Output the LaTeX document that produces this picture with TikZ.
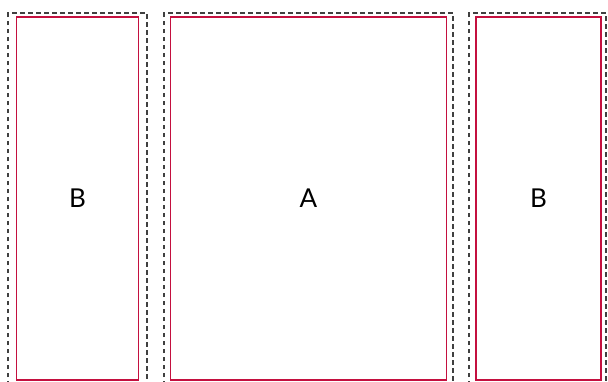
\documentclass[tikz,border=0pt]{standalone}
\usepackage{fontspec}
\setmainfont{Lato}
\usetikzlibrary{positioning}
\definecolor{panelred}{HTML}{C4103F}
\tikzset{
  panel/.style = {rectangle, draw=panelred, line width=1.6pt, align=center, inner sep=0pt, font=\fontsize{26}{30}\selectfont},
  frame/.style = {draw=black!75, line width=1.3pt, dash pattern=on 4.5pt off 3.5pt}
}

\begin{document}
\begin{tikzpicture}[x=1pt, y=-1pt]

\useasboundingbox (0,0) rectangle (608,381);

% Panels
\node[panel, minimum width=122pt, minimum height=363pt] (leftB) at (77.5,198.5) {B};
\node[panel, minimum width=276pt, minimum height=363pt] (midA) at (308.5,198.5) {A};
\node[panel, minimum width=125pt, minimum height=363pt] (rightB) at (538.5,198.5) {B};

% Dashed frames (open at the bottom)
\draw[frame] (8,385) -- (8,13) -- (147,13) -- (147,385);
\draw[frame] (164,385) -- (164,13) -- (453,13) -- (453,385);
\draw[frame] (469,385) -- (469,13) -- (606,13) -- (606,385);

\end{tikzpicture}
\end{document}
